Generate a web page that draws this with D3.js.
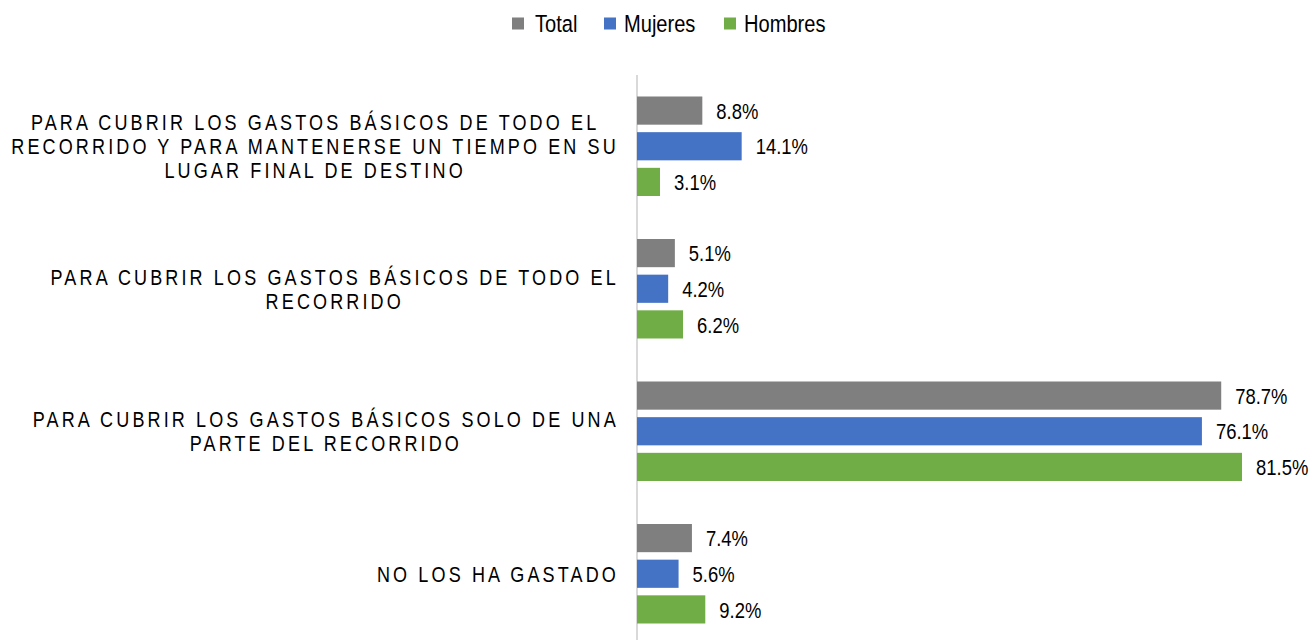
<!DOCTYPE html>
<meta charset="utf-8">
<style>
body { margin: 0; background: #fff; }
svg text { font-family: "Liberation Sans", Arial, sans-serif; fill: #000; }
.cat { font-size: 22px; letter-spacing: 3.8px; }
.val { font-size: 22.5px; }
.legend text { font-size: 24.5px; }
</style>
<svg width="1314" height="640"></svg>
<script src="https://d3js.org/d3.v7.min.js"></script>
<script>

var categories = [
  ["PARA CUBRIR LOS GASTOS BÁSICOS DE TODO EL", "RECORRIDO Y PARA MANTENERSE UN TIEMPO EN SU", "LUGAR FINAL DE DESTINO"],
  ["PARA CUBRIR LOS GASTOS BÁSICOS DE TODO EL", "RECORRIDO"],
  ["PARA CUBRIR LOS GASTOS BÁSICOS SOLO DE UNA", "PARTE DEL RECORRIDO"],
  ["NO LOS HA GASTADO"]
];
var series = ["Total", "Mujeres", "Hombres"];
var colors = ["#7f7f7f", "#4472c4", "#70ad47"];
var total   = [8.8, 5.1, 78.7, 7.4];
var mujeres = [14.1, 4.2, 76.1, 5.6];
var hombres = [3.1, 6.2, 81.5, 9.2];
var values = [total, mujeres, hombres];

var svg = d3.select("svg");
var narrow = 0.82; // no condensed font installed, squeeze horizontally
var x0 = 637;

var x = d3.scaleLinear()
    .domain([0, 81.5])
    .range([x0, 1242]);

var y = d3.scaleBand()
    .domain(d3.range(categories.length))
    .range([75, 645]);

var ySub = d3.scaleBand()
    .domain(series)
    .range([21.5, 121])
    .paddingInner(0.21);

// axis line
svg.append("line")
    .attr("x1", x0).attr("x2", x0)
    .attr("y1", 75).attr("y2", 640)
    .attr("stroke", "#d9d9d9")
    .attr("stroke-width", 2);

var groups = svg.selectAll("g.cat-group")
    .data(categories)
  .enter().append("g")
    .attr("class", "cat-group")
    .attr("transform", function(d, i) { return "translate(0," + y(i) + ")"; });

groups.each(function(lines, ci) {
  var g = d3.select(this);
  series.forEach(function(s, si) {
    var v = values[si][ci];
    g.append("rect")
        .attr("x", x(0))
        .attr("y", ySub(s))
        .attr("width", x(v) - x(0))
        .attr("height", ySub.bandwidth())
        .attr("fill", colors[si]);
    g.append("text")
        .attr("class", "val")
        .attr("transform", "translate(" + (x(v) + 14) + "," + (ySub(s) + ySub.bandwidth() / 2) + ") scale(" + narrow + ",1)")
        .attr("dy", "0.36em")
        .text(v.toFixed(1) + "%");
  });

  // category label: lines centred on each other, block ends near the axis
  var lineH = 24;
  var label = g.append("text").attr("class", "cat").attr("text-anchor", "middle");
  var tspans = label.selectAll("tspan")
      .data(lines)
    .enter().append("tspan")
      .attr("x", 0)
      .attr("y", function(d, i) { return i * lineH; })
      .attr("dy", "0.36em")
      .text(function(d) { return d; });
  var maxW = 0;
  tspans.each(function() { maxW = Math.max(maxW, this.getComputedTextLength()); });
  var cx = 619 - maxW * narrow / 2;
  var top = y.bandwidth() / 2 - (lines.length - 1) * lineH / 2;
  label.attr("transform", "translate(" + cx + "," + top + ") scale(" + narrow + ",1)");
});

// legend
var legendX = [512, 604, 724];
var legend = svg.selectAll("g.legend")
    .data(series)
  .enter().append("g")
    .attr("class", "legend")
    .attr("transform", function(d, i) { return "translate(" + legendX[i] + ",0)"; });
legend.append("rect")
    .attr("x", 0).attr("y", 17.5)
    .attr("width", 12).attr("height", 12)
    .attr("fill", function(d, i) { return colors[i]; });
legend.append("text")
    .attr("transform", function(d, i) { return "translate(" + (i == 0 ? 23 : 20) + ",31.5) scale(" + narrow + ",1)"; })
    .text(function(d) { return d; });

</script>
